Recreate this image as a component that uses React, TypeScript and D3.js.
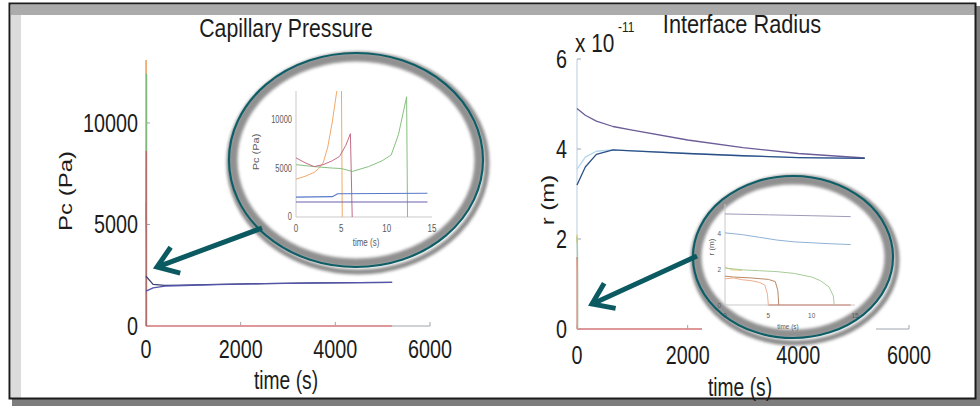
import React from 'react';
import * as d3 from 'd3';

const FONT = '"Liberation Sans", Arial, Helvetica, sans-serif';

// ---- capillary pressure, whole run (time s, Pc Pa)
const pcLongTime = [0, 150, 400, 800, 1500, 2500, 3500, 4500, 5200];
const pcUpper = [2450, 2050, 2000, 2010, 2050, 2090, 2120, 2140, 2150];
const pcLower = [1715, 1880, 1960, 1995, 2040, 2085, 2115, 2135, 2150];
const pcZeroTime = [0, 5200];
const pcZero = [0, 0];

// ---- capillary pressure, first seconds (inset)
const pcOrangeTime = [0, 1, 2, 2.5, 3, 3.5, 4, 4.5, 5.0, 5.1];
const pcOrange = [3900, 4200, 4600, 5000, 5600, 7200, 9800, 13000, 16000, 0];
const pcPinkTime = [0, 1, 2, 3, 4, 4.8, 5.5, 6.0, 6.2];
const pcPink = [6100, 5600, 5200, 5400, 5800, 6250, 7400, 8600, 0];
const pcGreenTime = [0, 2, 4, 5, 6.2, 8, 9.5, 10.5, 11.3, 12.2, 12.3];
const pcGreen = [5400, 5200, 5050, 5000, 4700, 5200, 5800, 6400, 8500, 12400, 0];
const pcBlueShortTime = [0, 4, 4.6, 14.5];
const pcBlueShort = [2050, 2100, 2400, 2450];
const pcPurpleShortTime = [0, 14.5];
const pcPurpleShort = [1550, 1550];

// ---- interface radius, whole run (time s, r x 1e-11 m)
const rLongTime = [0, 150, 350, 650, 1000, 2000, 3000, 4000, 5200];
const rUpper = [4.9, 4.75, 4.62, 4.5, 4.42, 4.2, 4.03, 3.9, 3.8];
const rLower = [3.2, 3.6, 3.88, 3.98, 3.96, 3.9, 3.85, 3.81, 3.79];
const rPale = [3.55, 3.82, 3.95, 3.98, 3.96, 3.9, 3.85, 3.81, 3.79];
const rZeroLongTime = [0, 5200];
const rZeroLong = [0, 0];

// ---- interface radius, first seconds (inset)
const rTopTime = [0, 5, 10, 14.5];
const rTop = [5.05, 5.0, 4.95, 4.9];
const rBlueTime = [0, 2, 4, 6, 8, 10, 12, 14.5];
const rBlue = [4.0, 3.9, 3.75, 3.6, 3.5, 3.45, 3.4, 3.35];
const rGreenTime = [0, 2, 4, 6, 8, 10, 11, 12, 12.5, 12.6];
const rGreen = [2.05, 1.95, 1.9, 1.85, 1.75, 1.55, 1.35, 1.0, 0.5, 0];
const rBrownTime = [0, 1, 3, 5, 5.8, 6.1, 6.2];
const rBrown = [1.6, 1.55, 1.5, 1.42, 1.3, 0.8, 0];
const rOrangeTime = [0, 1, 2, 3, 4, 4.6, 4.9, 5.0];
const rOrange = [1.45, 1.5, 1.4, 1.35, 1.25, 1.1, 0.6, 0];
const rYellowTime = [0, 0.8, 2];
const rYellow = [2.1, 1.95, 1.92];
const rZeroShortTime = [5, 14.5];
const rZeroShort = [0, 0];

// tick labels
const longTicks = [0, 2000, 4000, 6000];
const pcTicks = [0, 5000, 10000];
const rTicks = [0, 2, 4, 6];
const shortTicks = [0, 5, 10, 15];
const rShortTicks = [0, 2, 4];

type Scale = d3.ScaleLinear<number, number>;

function SText({ x, y, size, sx = 0.8, anchor = 'middle', rotate = false, fill = '#1c1c1c', children }: any) {
  const tr = rotate
    ? `translate(${x},${y}) rotate(-90) scale(1,${sx})`
    : `translate(${x},${y}) scale(${sx},1)`;
  return (
    <text transform={tr} fontSize={size} textAnchor={anchor} dominantBaseline="central" fontFamily={FONT} fill={fill}>
      {children}
    </text>
  );
}

function Series({ x, y, t, v, color, w = 1.3 }: { x: Scale; y: Scale; t: number[]; v: number[]; color: string; w?: number }) {
  const line = d3.line<number>().x((d, i) => x(t[i])).y((d) => y(d));
  return <path d={line(v) || ''} fill="none" stroke={color} strokeWidth={w} strokeLinejoin="round" />;
}

function Arrow({ tail, tip }: { tail: [number, number]; tip: [number, number] }) {
  const a = Math.atan2(tail[1] - tip[1], tail[0] - tip[0]);
  const L = 24, s = (35 * Math.PI) / 180;
  const p1 = [tip[0] + L * Math.cos(a + s), tip[1] + L * Math.sin(a + s)];
  const p2 = [tip[0] + L * Math.cos(a - s), tip[1] + L * Math.sin(a - s)];
  const c = '#0c5a61';
  return (
    <g stroke={c} strokeWidth={5} fill="none" strokeLinecap="butt">
      <line x1={tail[0]} y1={tail[1]} x2={tip[0] + 2 * Math.cos(a)} y2={tip[1] + 2 * Math.sin(a)} />
      <polyline points={`${p1[0]},${p1[1]} ${tip[0]},${tip[1]} ${p2[0]},${p2[1]}`} strokeLinejoin="miter" />
    </g>
  );
}

function Bubble({ id, cx, cy, rx, ry, children }: any) {
  return (
    <g>
      <ellipse cx={cx + 2} cy={cy + 3} rx={rx + 2} ry={ry + 2} fill="none" stroke="#8a8a8a" strokeWidth={5} filter="url(#soft)" />
      <clipPath id={id}>
        <ellipse cx={cx} cy={cy} rx={rx} ry={ry} />
      </clipPath>
      <ellipse cx={cx} cy={cy} rx={rx} ry={ry} fill="#fff" />
      <g clipPath={`url(#${id})`}>
        <ellipse cx={cx} cy={cy} rx={rx - 4} ry={ry - 4} fill="none" stroke="#909090" strokeWidth={9} filter="url(#soft)" />
      </g>
      {children}
      <ellipse cx={cx} cy={cy} rx={rx} ry={ry} fill="none" stroke="#0d5e66" strokeWidth={2.2} />
    </g>
  );
}

export default function App() {
  // main panels
  const xL = d3.scaleLinear().domain([0, 6000]).range([146, 430]);
  const yL = d3.scaleLinear().domain([0, 13100]).range([326, 60]);
  const xR = d3.scaleLinear().domain([0, 6000]).range([577, 909]);
  const yR = d3.scaleLinear().domain([0, 6]).range([329, 59]);
  // insets
  const xLi = d3.scaleLinear().domain([0, 15]).range([296, 432]);
  const yLi = d3.scaleLinear().domain([0, 13000]).range([217, 91]);
  const xRi = d3.scaleLinear().domain([0, 15]).range([725, 855]);
  const yRi = d3.scaleLinear().domain([0, 5.6]).range([305, 204]);

  const axisC = '#9ea4ae';
  const insetAxisC = '#c9c9c9';
  const insetText = '#5a5a5a';

  return (
    <svg width={980} height={406} style={{ position: 'absolute', left: 0, top: 0 }} fontFamily={FONT}>
      <defs>
        <filter id="soft" x="-10%" y="-10%" width="120%" height="120%">
          <feGaussianBlur stdDeviation={1.6} />
        </filter>
        <clipPath id="plotL">
          <rect x={140} y={yL(13100)} width={300} height={yL(0) - yL(13100) + 2} />
        </clipPath>
        <clipPath id="plotR">
          <rect x={572} y={yR(6)} width={345} height={yR(0) - yR(6) + 2} />
        </clipPath>
        <clipPath id="plotLi">
          <rect x={294} y={yLi(13000)} width={145} height={yLi(0) - yLi(13000) + 1} />
        </clipPath>
        <clipPath id="plotRi">
          <rect x={723} y={yRi(5.6)} width={140} height={yRi(0) - yRi(5.6) + 1} />
        </clipPath>
      </defs>

      {/* frame */}
      <rect x={0} y={0} width={980} height={406} fill="#fff" />
      <rect x={976} y={6} width={4} height={400} fill="#7d7d7d" />
      <rect x={12} y={399} width={968} height={7} fill="#7d7d7d" />
      <rect x={11} y={5} width={964} height={10} fill="#ababab" />
      <rect x={11} y={15} width={10} height={383} fill="#dcdcdc" />
      <rect x={9.5} y={3.5} width={966} height={395} fill="none" stroke="#1c1c1c" strokeWidth={2} />

      {/* ===== left: capillary pressure ===== */}
      <SText x={286} y={28} size={25} sx={0.85}>Capillary Pressure</SText>
      <line x1={xL(0)} y1={yL(0)} x2={xL(6000)} y2={yL(0)} stroke={axisC} />
      <line x1={xL(0)} y1={yL(0)} x2={xL(0)} y2={yL(13100)} stroke={axisC} />
      {longTicks.map((t) => (
        <g key={'lx' + t}>
          <line x1={xL(t)} x2={xL(t)} y1={yL(0)} y2={yL(0) - 4} stroke={axisC} />
          <SText x={xL(t)} y={349} size={26} sx={0.76}>{t}</SText>
        </g>
      ))}
      {pcTicks.map((v) => (
        <g key={'ly' + v}>
          <line x1={xL(0)} x2={xL(0) + 4} y1={yL(v)} y2={yL(v)} stroke={axisC} />
          <SText x={xL(0) - 8} y={yL(v)} size={26} sx={0.76} anchor="end">{v}</SText>
        </g>
      ))}
      <SText x={286} y={380} size={26} sx={0.74}>time (s)</SText>
      <SText x={65} y={191} size={24} sx={0.8} rotate>Pc (Pa)</SText>
      <g clipPath="url(#plotL)">
        <Series x={xL} y={yL} t={pcZeroTime} v={pcZero} color="#e48585" />
        <Series x={xL} y={yL} t={pcOrangeTime} v={pcOrange} color="#f0a868" />
        <Series x={xL} y={yL} t={pcGreenTime} v={pcGreen} color="#7fb878" />
        <Series x={xL} y={yL} t={pcPinkTime} v={pcPink} color="#b46a6a" />
        <Series x={xL} y={yL} t={pcLongTime} v={pcUpper} color="#3c4478" />
        <Series x={xL} y={yL} t={pcLongTime} v={pcLower} color="#5454aa" />
      </g>

      {/* ===== right: interface radius ===== */}
      <SText x={742} y={24} size={25} sx={0.87}>Interface Radius</SText>
      <SText x={575} y={43} size={26} sx={0.8} anchor="start">x 10</SText>
      <SText x={618} y={27} size={14} sx={0.85} anchor="start">-11</SText>
      <line x1={xR(0)} y1={yR(0)} x2={xR(6000)} y2={yR(0)} stroke={axisC} />
      <line x1={xR(0)} y1={yR(0)} x2={xR(0)} y2={yR(6)} stroke="#b9cde0" />
      {longTicks.map((t) => (
        <g key={'rx' + t}>
          <line x1={xR(t)} x2={xR(t)} y1={yR(0)} y2={yR(0) - 4} stroke={axisC} />
          <SText x={xR(t)} y={355} size={26} sx={0.76}>{t}</SText>
        </g>
      ))}
      {rTicks.map((v) => (
        <g key={'ry' + v}>
          <line x1={xR(0)} x2={xR(0) + 4} y1={yR(v)} y2={yR(v)} stroke={axisC} />
          <SText x={xR(0) - 10} y={yR(v)} size={26} sx={0.76} anchor="end">{v}</SText>
        </g>
      ))}
      <SText x={740} y={387} size={26} sx={0.74}>time (s)</SText>
      <SText x={547} y={200} size={24} sx={0.8} rotate>r (m)</SText>
      <g clipPath="url(#plotR)">
        <Series x={xR} y={yR} t={rZeroLongTime} v={rZeroLong} color="#e48585" />
        <Series x={xR} y={yR} t={rYellowTime} v={rYellow} color="#ecc96a" />
        <Series x={xR} y={yR} t={rGreenTime} v={rGreen} color="#a9cc98" />
        <Series x={xR} y={yR} t={rBrownTime} v={rBrown} color="#c98a78" />
        <Series x={xR} y={yR} t={rOrangeTime} v={rOrange} color="#ee9a8a" />
        <Series x={xR} y={yR} t={rLongTime} v={rPale} color="#b2d6ec" />
        <Series x={xR} y={yR} t={rLongTime} v={rUpper} color="#6c5c98" />
        <Series x={xR} y={yR} t={rLongTime} v={rLower} color="#2c4f86" />
      </g>
      {/* pasted inset background */}
      <rect x={702} y={316} width={174} height={26} fill="#fff" />

      {/* ===== inset: capillary pressure, first seconds ===== */}
      <Bubble id="bubL" cx={356} cy={160} rx={127} ry={107}>
        <line x1={xLi(0)} y1={yLi(0)} x2={xLi(15)} y2={yLi(0)} stroke={insetAxisC} />
        <line x1={xLi(0)} y1={yLi(0)} x2={xLi(0)} y2={yLi(13000)} stroke={insetAxisC} />
        {shortTicks.map((t) => (
          <SText key={'lix' + t} x={xLi(t)} y={229} size={10} sx={0.8} fill={insetText}>{t}</SText>
        ))}
        {pcTicks.map((v) => (
          <SText key={'liy' + v} x={xLi(0) - 4} y={yLi(v)} size={10} sx={0.75} anchor="end" fill={insetText}>{v}</SText>
        ))}
        <SText x={366} y={243} size={10} sx={0.8} fill={insetText}>time (s)</SText>
        <SText x={256} y={152} size={11} sx={0.8} rotate fill={insetText}>Pc (Pa)</SText>
        <g clipPath="url(#plotLi)">
          <Series x={xLi} y={yLi} t={pcOrangeTime} v={pcOrange} color="#f2a868" w={1} />
          <Series x={xLi} y={yLi} t={pcGreenTime} v={pcGreen} color="#86c07e" w={1} />
          <Series x={xLi} y={yLi} t={pcPinkTime} v={pcPink} color="#c26c88" w={1} />
          <Series x={xLi} y={yLi} t={pcBlueShortTime} v={pcBlueShort} color="#5878c8" w={1.1} />
          <Series x={xLi} y={yLi} t={pcPurpleShortTime} v={pcPurpleShort} color="#6a60b0" w={1.1} />
        </g>
      </Bubble>

      {/* ===== inset: interface radius, first seconds ===== */}
      <Bubble id="bubR" cx={793} cy={257} rx={100} ry={81}>
        <line x1={xRi(0)} y1={yRi(0)} x2={xRi(15)} y2={yRi(0)} stroke={insetAxisC} />
        <line x1={xRi(0)} y1={yRi(0)} x2={xRi(0)} y2={yRi(5.6)} stroke={insetAxisC} />
        {shortTicks.map((t) => (
          <SText key={'rix' + t} x={xRi(t)} y={315} size={8} sx={0.8} fill={insetText}>{t}</SText>
        ))}
        {rShortTicks.map((v) => (
          <SText key={'riy' + v} x={xRi(0) - 4} y={yRi(v)} size={8} sx={0.8} anchor="end" fill={insetText}>{v}</SText>
        ))}
        <SText x={788} y={326} size={8} sx={0.8} fill={insetText}>time (s)</SText>
        <SText x={712} y={247} size={8} sx={0.8} rotate fill={insetText}>r (m)</SText>
        <g clipPath="url(#plotRi)">
          <Series x={xRi} y={yRi} t={rZeroShortTime} v={rZeroShort} color="#c88070" w={1} />
          <Series x={xRi} y={yRi} t={rTopTime} v={rTop} color="#9c9ab8" w={1} />
          <Series x={xRi} y={yRi} t={rBlueTime} v={rBlue} color="#8fb2d6" w={1} />
          <Series x={xRi} y={yRi} t={rYellowTime} v={rYellow} color="#ecc96a" w={1} />
          <Series x={xRi} y={yRi} t={rGreenTime} v={rGreen} color="#a9cc98" w={1} />
          <Series x={xRi} y={yRi} t={rBrownTime} v={rBrown} color="#b88a66" w={1} />
          <Series x={xRi} y={yRi} t={rOrangeTime} v={rOrange} color="#f2ad8c" w={1} />
        </g>
      </Bubble>

      {/* callout arrows */}
      <Arrow tail={[262, 228]} tip={[157, 267]} />
      <Arrow tail={[697, 256]} tip={[592, 304]} />
    </svg>
  );
}
